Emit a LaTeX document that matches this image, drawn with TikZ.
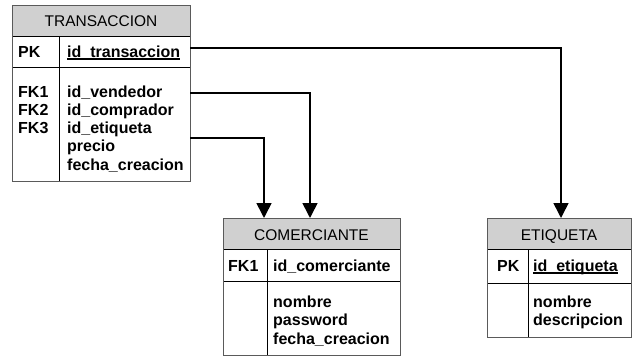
\documentclass[tikz,border=0pt]{standalone}
\usepackage{fontspec}
\setmainfont{Liberation Sans}
\usetikzlibrary{arrows.meta}
\definecolor{hdr}{RGB}{208,208,208}
\definecolor{edge}{RGB}{90,90,90}
\tikzset{
  tbl/.style={draw=edge, line width=1.3pt, rectangle, inner sep=0pt, anchor=north west},
  sep/.style={draw=black, line width=0.8pt},
  ttl/.style={inner sep=0pt, anchor=base, font=\fontsize{15.5}{18}\selectfont},
  fld/.style={inner sep=0pt, anchor=base west, font=\fontsize{16}{18.4}\selectfont\bfseries},
  conn/.style={draw=black, line width=1.6pt, -{Triangle[length=15pt,width=15pt]}},
  ul/.style={draw=black, line width=1.1pt}
}
\begin{document}
\begin{tikzpicture}[x=1pt,y=-1pt]
\useasboundingbox (0,0) rectangle (632,356);
% ---------- TRANSACCION ----------
\fill[hdr] (12,5) rectangle (190,36);
\draw[sep] (12,36) -- (190,36);
\draw[sep] (12,67) -- (190,67);
\draw[sep] (59,36) -- (59,181);
\node[tbl, minimum width=178pt, minimum height=176pt] (trans) at (12,5) {};
\node[ttl] (transT) at (101,26.5) {TRANSACCION};
\node[fld] (transPK) at (18,57) {PK};
\node[fld] (transId) at (67,57) {id\_transaccion};
\draw[ul] ([yshift=-2pt]transId.base west) -- ([yshift=-2pt]transId.base east);
\node[fld] (transFK1) at (18,97) {FK1};
\node[fld] (transFK2) at (18,115.3) {FK2};
\node[fld] (transFK3) at (18,133.6) {FK3};
\node[fld] (transF1) at (67,97) {id\_vendedor};
\node[fld] (transF2) at (67,115.3) {id\_comprador};
\node[fld] (transF3) at (67,133.6) {id\_etiqueta};
\node[fld] (transF4) at (67,151.9) {precio};
\node[fld] (transF5) at (67,170.2) {fecha\_creacion};
% ---------- COMERCIANTE ----------
\fill[hdr] (223,218) rectangle (400,249);
\draw[sep] (223,249) -- (400,249);
\draw[sep] (223,281) -- (400,281);
\draw[sep] (267,249) -- (267,355);
\node[tbl, minimum width=177pt, minimum height=137pt] (comer) at (223,218) {};
\node[ttl] (comerT) at (311.5,240) {COMERCIANTE};
\node[fld] (comerFK) at (228,271) {FK1};
\node[fld] (comerId) at (273,271) {id\_comerciante};
\node[fld] (comerF1) at (273,307) {nombre};
\node[fld] (comerF2) at (273,325.5) {password};
\node[fld] (comerF3) at (273,344) {fecha\_creacion};
% ---------- ETIQUETA ----------
\fill[hdr] (487,218) rectangle (631,249);
\draw[sep] (487,249) -- (631,249);
\draw[sep] (487,283) -- (631,283);
\draw[sep] (528,249) -- (528,337);
\node[tbl, minimum width=144pt, minimum height=119pt] (etiq) at (487,218) {};
\node[ttl] (etiqT) at (559,240) {ETIQUETA};
\node[fld] (etiqPK) at (497,271) {PK};
\node[fld] (etiqId) at (533,271) {id\_etiqueta};
\draw[ul] ([yshift=-2pt]etiqId.base west) -- ([yshift=-2pt]etiqId.base east);
\node[fld] (etiqF1) at (533,307) {nombre};
\node[fld] (etiqF2) at (533,325.5) {descripcion};
% ---------- connectors ----------
\coordinate (s1) at (190,48);
\coordinate (s2) at (190,93);
\coordinate (s3) at (190,138);
\coordinate (e1) at (561,218);
\coordinate (c2) at (310,218);
\coordinate (c1) at (264,218);
\draw[conn] (s1) -| (e1);
\draw[conn] (s2) -| (c2);
\draw[conn] (s3) -| (c1);
\end{tikzpicture}
\end{document}
